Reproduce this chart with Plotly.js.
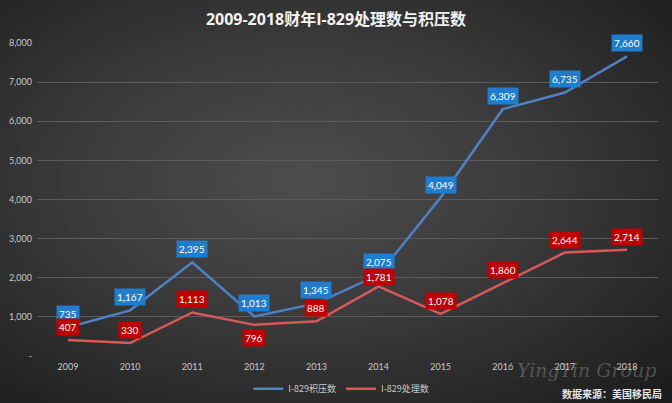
<!DOCTYPE html>
<html><head><meta charset="utf-8">
<script src="https://cdn.plot.ly/plotly-3.0.1.min.js"></script>
<style>
html,body{margin:0;padding:0;}
body{width:672px;height:403px;background:radial-gradient(ellipse at 45% 45%, #4d4d4d 0%, #3a3a3a 45%, #232323 85%, #1a1a1a 100%);}
#chart{width:672px;height:403px;}
</style></head>
<body><div id="chart"></div>
<script>
const years = ['2009','2010','2011','2012','2013','2014','2015','2016','2017','2018'];
const backlog = [735,1167,2395,1013,1345,2075,4049,6309,6735,7660];
const processed = [407,330,1113,796,888,1781,1078,1860,2644,2714];
const seriesNames = ['I-829积压数','I-829处理数'];
const yTickVals = [0,1000,2000,3000,4000,5000,6000,7000,8000];
const yTickText = ['-','1,000','2,000','3,000','4,000','5,000','6,000','7,000','8,000'];

const fmt = v => v.toLocaleString('en-US');
const font = 'Lato, "Noto Sans CJK SC", sans-serif';

const traces = [
  {x: years, y: backlog, name: seriesNames[0], type:'scatter', mode:'lines',
   line:{color:'#4f81c7', width:2.5}},
  {x: years, y: processed, name: seriesNames[1], type:'scatter', mode:'lines',
   line:{color:'#d9595a', width:2.5}}
];

const annotations = [];
backlog.forEach((v,i)=>{
  annotations.push({x: i, y: v, xref:'x', yref:'y', text: fmt(v), showarrow:false,
    yshift: 13, bgcolor:'#1f7dd0', borderpad:2, font:{color:'#ffffff', size:10, family:font}});
});
const redShift = {3:-13, 5:9};
processed.forEach((v,i)=>{
  annotations.push({x: i, y: v, xref:'x', yref:'y', text: fmt(v), showarrow:false,
    yshift: (i in redShift) ? redShift[i] : 13, bgcolor:'#c00000', borderpad:2,
    font:{color:'#ffffff', size:10, family:font}});
});
annotations.push({xref:'paper', yref:'paper', x:1.01, y:-0.12, xanchor:'right', yanchor:'middle',
  text:'<b>数据来源：美国移民局</b>', showarrow:false, font:{color:'#e6e6e6', size:10, family:'"Noto Sans CJK SC", sans-serif'}});
annotations.push({xref:'paper', yref:'paper', x:1.0, y:-0.045, xanchor:'right', yanchor:'middle',
  text:'<i>YingYin Group</i>', showarrow:false, font:{color:'rgba(200,200,200,0.3)', size:19, family:'"DejaVu Serif", serif'}});

const layout = {
  width:672, height:403,
  paper_bgcolor:'rgba(0,0,0,0)', plot_bgcolor:'rgba(0,0,0,0)',
  margin:{l:37, r:14, t:43, b:47, autoexpand:false},
  title:{text:'<b>2009-2018财年I-829处理数与积压数</b>', x:0.5, xanchor:'center', y:0.953, yanchor:'middle',
    font:{color:'#f2f2f2', size:16, family:'"Open Sans", "Noto Sans CJK SC", sans-serif'}},
  xaxis:{type:'category', range:[-0.5,9.5], showgrid:false, zeroline:false, showline:false,
    ticks:'', ticklabelstandoff:4, tickfont:{color:'#c8c8c8', size:9, family:font}, fixedrange:true},
  yaxis:{range:[0,8000], tickvals:yTickVals, ticktext:yTickText, showgrid:true, gridcolor:'#5c5c5c', gridwidth:1,
    zeroline:false, showline:false, ticks:'', ticklabelstandoff:4,
    tickfont:{color:'#c8c8c8', size:9, family:font}, fixedrange:true},
  showlegend:true,
  legend:{orientation:'h', x:0.49, xanchor:'center', y:-0.105, yanchor:'middle',
    font:{color:'#c8c8c8', size:9, family:'"Noto Sans CJK SC", sans-serif'}, bgcolor:'rgba(0,0,0,0)', itemwidth:30},
  annotations: annotations
};
Plotly.newPlot('chart', traces, layout, {displayModeBar:false, staticPlot:true});
</script></body></html>
